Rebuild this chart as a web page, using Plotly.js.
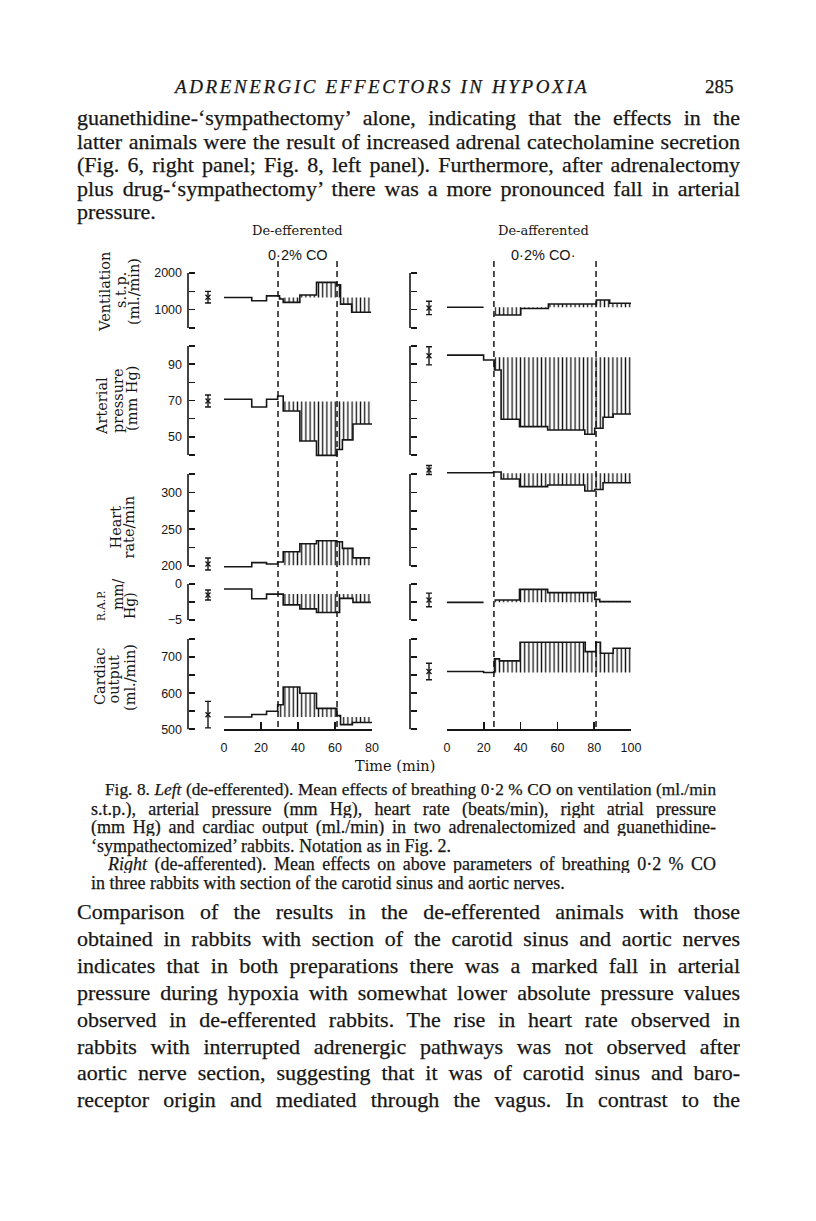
<!DOCTYPE html>
<html><head><meta charset="utf-8">
<script src="https://cdn.plot.ly/plotly-3.0.1.min.js"></script>
<style>
html,body{margin:0;padding:0;background:#fff;}
#page{position:relative;width:816px;height:1221px;overflow:hidden;background:#fff;color:#161616;}
.ln{position:absolute;white-space:nowrap;font-family:'Liberation Serif','Times New Roman',serif;-webkit-text-stroke:0.25px #161616;}
.body{font-size:22px;height:26px;line-height:26px;left:77px;width:663px;}
.cap{font-size:18px;height:18px;line-height:18px;}
.jus{text-align:justify;text-align-last:justify;white-space:normal;overflow:hidden;}
#plot{position:absolute;left:0;top:0;width:816px;height:1221px;}
</style></head><body><div id="page">
<div class="ln" style="left:175px;top:74px;font-size:19px;line-height:26px;font-style:italic;letter-spacing:2.6px;">ADRENERGIC EFFECTORS IN HYPOXIA</div>
<div class="ln" style="left:705px;top:74px;font-size:19px;line-height:26px;">285</div>

<div class="ln body jus" style="top:105px;">guanethidine-‘sympathectomy’ alone, indicating that the effects in the</div>
<div class="ln body jus" style="top:128.5px;">latter animals were the result of increased adrenal catecholamine secretion</div>
<div class="ln body jus" style="top:152px;">(Fig. 6, right panel; Fig. 8, left panel). Furthermore, after adrenalectomy</div>
<div class="ln body jus" style="top:175.5px;">plus drug-‘sympathectomy’ there was a more pronounced fall in arterial</div>
<div class="ln body" style="top:199px;">pressure.</div>

<div class="ln cap jus" style="top:781px;left:105px;width:611px;">Fig. 8. <i>Left</i> (de-efferented). Mean effects of breathing 0·2 % CO on ventilation (ml./min</div>
<div class="ln cap jus" style="top:799.5px;left:91px;width:625px;">s.t.p.), arterial pressure (mm Hg), heart rate (beats/min), right atrial pressure</div>
<div class="ln cap jus" style="top:818px;left:91px;width:625px;">(mm Hg) and cardiac output (ml./min) in two adrenalectomized and guanethidine-</div>
<div class="ln cap" style="top:836.5px;left:91px;">‘sympathectomized’ rabbits. Notation as in Fig. 2.</div>
<div class="ln cap jus" style="top:855px;left:108px;width:608px;"><i>Right</i> (de-afferented). Mean effects on above parameters of breathing 0·2 % CO</div>
<div class="ln cap" style="top:873.5px;left:91px;">in three rabbits with section of the carotid sinus and aortic nerves.</div>

<div class="ln body jus" style="top:899px;">Comparison of the results in the de-efferented animals with those</div>
<div class="ln body jus" style="top:925.9px;">obtained in rabbits with section of the carotid sinus and aortic nerves</div>
<div class="ln body jus" style="top:952.8px;">indicates that in both preparations there was a marked fall in arterial</div>
<div class="ln body jus" style="top:979.7px;">pressure during hypoxia with somewhat lower absolute pressure values</div>
<div class="ln body jus" style="top:1006.6px;">observed in de-efferented rabbits. The rise in heart rate observed in</div>
<div class="ln body jus" style="top:1033.5px;">rabbits with interrupted adrenergic pathways was not observed after</div>
<div class="ln body jus" style="top:1060.4px;">aortic nerve section, suggesting that it was of carotid sinus and baro-</div>
<div class="ln body jus" style="top:1087.3px;">receptor origin and mediated through the vagus. In contrast to the</div>

<div id="plot"></div>
</div>
<script>
// shrink any justified line that would wrap, so each line stays on one row
document.querySelectorAll('.jus').forEach(el => {
  let size = parseFloat(getComputedStyle(el).fontSize);
  const lh = parseFloat(getComputedStyle(el).lineHeight);
  while (el.scrollHeight > lh + 2 && size > 9) { size -= 0.25; el.style.fontSize = size + 'px'; }
});

// ---------- DATA ----------
const timeTicksL = [0, 20, 40, 60, 80];
const timeTicksR = [0, 20, 40, 60, 80, 100];

const ventTicks = [500, 1000, 1500, 2000];
const ventTickText = ['', '1000', '', '2000'];
const apTicks = [40, 50, 60, 70, 80, 90, 100];
const apTickText = ['', '50', '', '70', '', '90', ''];
const hrTicks = [200, 225, 250, 275, 300, 325];
const hrTickText = ['200', '', '250', '', '300', ''];
const rapTicks = [-5, -2.5, 0];
const rapTickText = ['\u22125', '', '0'];
const coTicks = [500, 550, 600, 650, 700, 750];
const coTickText = ['500', '', '600', '', '700', ''];

// Left panel: de-efferented (time in min, values)
const ventL_t = [0, 15, 23, 30, 32, 41, 50, 61, 63, 69, 79.5];
const ventL_v = [1330, 1245, 1375, 1290, 1200, 1400, 1745, 1675, 1150, 930, 930];
const apL_t = [0, 15, 23, 29, 32, 41, 50, 61, 64, 69.7, 80];
const apL_v = [70.7, 66.4, 70.7, 72.5, 64.2, 47.7, 39.8, 43, 48.3, 57.1, 57.1];
const hrL_t = [0, 15, 23, 29, 32, 41, 50, 61, 64, 69.7, 79];
const hrL_v = [199, 204.6, 202.7, 205.4, 219.4, 230.3, 234.4, 233, 224, 211, 211];
const rapL_t = [0, 15, 23, 32, 41, 50, 62.5, 69.7, 79.4];
const rapL_v = [-0.7, -2.05, -1.4, -2.9, -3.45, -3.95, -2.0, -2.55, -2.55];
const coL_t = [0, 15, 23, 29, 32, 41, 50, 61, 63, 69.4, 80];
const coL_v = [534, 541, 550, 568, 617, 600, 558, 538, 513, 519, 519];

// Right panel: de-afferented
const ventR_t = [0, 19.9, 19.9, 25.8, 40.1, 55.1, 81.2, 88.4, 100];
const ventR_v = [1065, 1065, null, 856, 1030, 1155, 1264, 1174, 1174];
const apR_t = [0, 19.9, 25.8, 29.4, 39.4, 54.7, 74.9, 80.3, 84.8, 90.3, 100];
const apR_v = [95, 92.3, 86.8, 59.7, 55.6, 53.8, 51.4, 54.7, 60.8, 62.6, 62.6];
const hrR_t = [0, 25.3, 29.4, 39.4, 54.7, 74.9, 80.3, 84.8, 100];
const hrR_v = [326.8, 327.7, 318.2, 307.8, 310.1, 301.9, 304, 313.2, 313.2];
const rapR_t = [0, 19.9, 19.9, 25.8, 39.4, 54.7, 80.3, 83, 100];
const rapR_v = [-2.55, -2.55, null, -2.22, -0.74, -1.2, -2.13, -2.45, -2.45];
const coR_t = [0, 19.9, 25.8, 28.5, 39.7, 75.1, 80.9, 83.4, 90.3, 100];
const coR_v = [660, 657.2, 694.9, 689.4, 740.8, 715, 740.8, 710.6, 724.4, 724.4];

// control level (hatch reference) and start of hatched period
const hatchBaseL = [1330, 69.5, 201, -1.4, 534];
const hatchStartL = [30, 32, 32, 31, 29];
const hatchBaseR = [1065, 93.8, 325.9, -2.55, 657];
const hatchStartR = [25.8, 25.8, 29.4, 25.8, 25.8];

// mean control value and S.E. (x bars)
const seMeanL = [1340, 69.7, 202.7, -1.53, 540.6];
const seErrL = [160, 3.3, 8.2, 0.69, 36.6];
const seMeanR = [1046, 94.6, 330.4, -2.22, 660];
const seErrR = [182, 5, 6.1, 0.95, 23];

// CO breathing period (min)
const coPeriodL = [29.2, 61.1];
const coPeriodR = [25.5, 81];

// ---------- LAYOUT HELPERS ----------
const W = 816, H = 1221;
const px = p => p / W, py = p => 1 - p / H;
const INK = '#161616';

const rows = [
  {ticks: ventTicks, text: ventTickText, pTop: 273, pBot: 328},
  {ticks: apTicks, text: apTickText, pTop: 346, pBot: 455},
  {ticks: hrTicks, text: hrTickText, pTop: 474, pBot: 566},
  {ticks: rapTicks, text: rapTickText, pTop: 584, pBot: 620},
  {ticks: coTicks, text: coTickText, pTop: 639, pBot: 729.3}
];
const leftSeries = [[ventL_t, ventL_v], [apL_t, apL_v], [hrL_t, hrL_v], [rapL_t, rapL_v], [coL_t, coL_v]];
const rightSeries = [[ventR_t, ventR_v], [apR_t, apR_v], [hrR_t, hrR_v], [rapR_t, rapR_v], [coR_t, coR_v]];

const layout = {
  width: W, height: H, margin: {l: 0, r: 0, t: 0, b: 0},
  paper_bgcolor: 'rgba(0,0,0,0)', plot_bgcolor: 'rgba(0,0,0,0)',
  showlegend: false, shapes: [], annotations: []
};

function yax(row, xpos, labels) {
  const top = row.ticks[row.ticks.length - 1], bot = row.ticks[0];
  const k = (top - bot) / (row.pBot - row.pTop), pad = 14;
  return {
    domain: [py(row.pBot + pad), py(row.pTop - pad)],
    range: [bot - pad * k, top + pad * k],
    anchor: 'free', position: px(xpos), showline: false, showgrid: false, zeroline: false,
    ticks: 'inside', ticklen: 6, tickwidth: 1.6, tickcolor: INK,
    tickvals: row.ticks, ticktext: row.text, showticklabels: labels,
    ticklabelstandoff: 6,
    tickfont: {family: 'Liberation Sans, Arial, sans-serif', size: 12.5, color: INK},
    fixedrange: true
  };
}

const xBase = {
  anchor: 'free', position: py(729.3), showline: true, linewidth: 1.6, linecolor: INK,
  ticks: 'inside', ticklen: 7, tickwidth: 1.6, tickcolor: INK, showgrid: false, zeroline: false,
  ticklabelstandoff: 6,
  tickfont: {family: 'Liberation Sans, Arial, sans-serif', size: 12.5, color: INK}, fixedrange: true
};
layout.xaxis = Object.assign({}, xBase, {domain: [px(224), px(372)], range: [0, 80], tickvals: timeTicksL});
layout.xaxis2 = Object.assign({}, xBase, {domain: [px(447), px(631)], range: [0, 100], tickvals: timeTicksR});
layout.xaxis3 = {domain: [px(202), px(214)], range: [0, 1], visible: false, anchor: 'free', position: 0, fixedrange: true};
layout.xaxis4 = {domain: [px(423), px(435)], range: [0, 1], visible: false, anchor: 'free', position: 0, fixedrange: true};

const traces = [];
function hatchSeg(t, v, start) {
  let val = null;
  for (let i = 0; i < t.length; i++) if (t[i] <= start && v[i] != null) val = v[i];
  const xs = [start], ys = [val];
  for (let i = 0; i < t.length; i++) if (t[i] > start) { xs.push(t[i]); ys.push(v[i]); }
  return {xs, ys};
}
function addPanel(xa, ya, t, v, hStart, base) {
  const seg = hatchSeg(t, v, hStart);
  const end = t[t.length - 1];
  traces.push({x: [hStart, end], y: [base, base], xaxis: xa, yaxis: ya, mode: 'lines',
    line: {width: 0}, hoverinfo: 'skip'});
  traces.push({x: seg.xs, y: seg.ys, xaxis: xa, yaxis: ya, mode: 'lines',
    line: {width: 0, shape: 'hv'}, fill: 'tonexty', fillcolor: 'rgba(0,0,0,0)',
    fillpattern: {shape: '|', size: 4.2, solidity: 0.32, fgcolor: INK, bgcolor: 'rgba(0,0,0,0)'},
    hoverinfo: 'skip'});
  traces.push({x: t, y: v, xaxis: xa, yaxis: ya, mode: 'lines',
    line: {shape: 'hv', width: 1.6, color: INK}, connectgaps: false, hoverinfo: 'skip'});
}
function addSE(xa, ya, c, e) {
  traces.push({x: [0.5], y: [c], xaxis: xa, yaxis: ya, mode: 'markers',
    marker: {symbol: 'x-thin-open', size: 5, color: INK, line: {width: 1.4, color: INK}},
    error_y: {type: 'data', array: [e], visible: true, thickness: 1.4, width: 3, color: INK},
    cliponaxis: false, hoverinfo: 'skip'});
}

rows.forEach((row, i) => {
  const nL = i + 1, nR = i + 6;
  const idL = nL === 1 ? 'y' : 'y' + nL, idR = 'y' + nR;
  layout[nL === 1 ? 'yaxis' : 'yaxis' + nL] = yax(row, 188, true);
  layout['yaxis' + nR] = yax(row, 410, false);
  addPanel('x', idL, leftSeries[i][0], leftSeries[i][1], hatchStartL[i], hatchBaseL[i]);
  addPanel('x2', idR, rightSeries[i][0], rightSeries[i][1], hatchStartR[i], hatchBaseR[i]);
  addSE('x3', idL, seMeanL[i], seErrL[i]);
  addSE('x4', idR, seMeanR[i], seErrR[i]);
  const top = row.ticks[row.ticks.length - 1], bot = row.ticks[0];
  [[188, idL], [410, idR]].forEach(([xp, id]) => layout.shapes.push({
    type: 'line', xref: 'paper', yref: id, x0: px(xp), x1: px(xp), y0: bot, y1: top,
    line: {color: INK, width: 1.6}}));
});

[['x', coPeriodL], ['x2', coPeriodR]].forEach(([xa, per]) => per.forEach(tm => layout.shapes.push({
  type: 'line', xref: xa, yref: 'paper', x0: tm, x1: tm, y0: py(727), y1: py(259),
  line: {color: INK, width: 1.5, dash: '6px,4px'}})));

// ---------- TEXT ----------
const serif = 'DejaVu Serif, serif', sans = 'Liberation Sans, Arial, sans-serif';
function A(text, x, y, size, fam, extra) {
  layout.annotations.push(Object.assign({text, x: px(x), y: py(y), xref: 'paper', yref: 'paper',
    showarrow: false, xanchor: 'center', yanchor: 'middle',
    font: {family: fam || serif, size: size || 14, color: INK}}, extra || {}));
}
A('De-efferented', 297.5, 230, 13);
A('De-afferented', 543, 230, 13);
A('0·2% CO', 297.5, 255, 14.5, sans);
A('0·2% CO·', 543, 255, 14.5, sans);
A('Time (min)', 395, 766, 14.5);
const rot = {textangle: -90};
A('Ventilation', 105, 292, 14.5, serif, rot);
A('s.t.p.', 121, 290, 14.5, serif, rot);
A('(ml./min)', 134, 292, 14.5, serif, rot);
A('Arterial', 102, 406, 14.5, serif, rot);
A('pressure', 118, 401, 14.5, serif, rot);
A('(mm Hg)', 132, 399, 14.5, serif, rot);
A('Heart', 115.5, 527, 14.5, serif, rot);
A('rate/min', 128.5, 527, 14.5, serif, rot);
A('R.A.P.', 101, 606, 10.5, serif, rot);
A('mm/', 118, 594, 14, serif, rot);
A('Hg)', 130, 606, 14, serif, rot);
A('Cardiac', 100, 677, 14.5, serif, rot);
A('output', 113.5, 679, 14.5, serif, rot);
A('(ml./min)', 130, 678, 14.5, serif, rot);

Plotly.newPlot('plot', traces, layout, {staticPlot: true, displayModeBar: false});
</script>
</body></html>
